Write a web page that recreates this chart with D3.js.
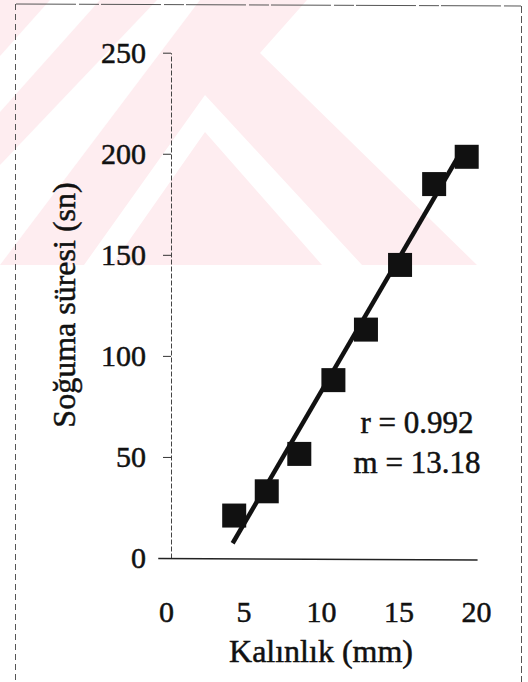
<!DOCTYPE html>
<html>
<head>
<meta charset="utf-8">
<script src="https://cdn.jsdelivr.net/npm/d3@7"></script>
<style>
  html, body { margin: 0; padding: 0; background: #fff; }
  svg { display: block; }
  svg text { font-family: "Liberation Serif", "Tinos", "Times New Roman", "DejaVu Serif", serif !important; fill: #111; stroke: #111; stroke-width: 0.5px; }
</style>
</head>
<body>
<div id="chart"></div>
<script>
// values
const thickness = [4.4, 6.5, 8.6, 10.8, 12.9, 15.1, 17.3, 19.4];   // Kalınlık (mm)
const coolingTime = [21, 33, 51.5, 88, 113, 145, 185, 198.5];      // Soğuma süresi (sn)
const fitLine = [[4.3, 7.3], [19.0, 200.5]];                       // fitted line, m = 13.18
const xTicks = [0, 5, 10, 15, 20];
const yTicks = [0, 50, 100, 150, 200, 250];
const notes = ["r = 0.992", "m = 13.18"];

const width = 528, height = 682;

const svg = d3.select("#chart")
    .append("svg")
    .attr("width", width)
    .attr("height", height);

// faint pink watermark from the scanned page
const wm = svg.append("g").attr("class", "watermark");
wm.append("path").attr("fill", "#feedf0")
    .attr("d", "M0,0 L307,0 L260,53 L477,265 L0,265 Z");
wm.selectAll("path.stripe")
  .data([
    "M50,0 L100,0 L0,112 L0,56 Z",
    "M157,0 L200,0 L0,265 L0,165 Z",
    "M205,95 L362,265 L322,265 L205,132 L112,265 L84,265 Z"
  ])
  .enter().append("path")
    .attr("class", "stripe")
    .attr("fill", "#fff")
    .attr("d", d => d);

// page frame (scanned, broken lines)
const frame = svg.append("g")
    .attr("fill", "none")
    .attr("stroke", "#555")
    .attr("stroke-width", 1);
frame.append("line").attr("x1", 16).attr("y1", 4).attr("x2", 521).attr("y2", 6)
    .attr("stroke-dasharray", "60,3,20,2");
frame.append("line").attr("x1", 15.5).attr("y1", 4).attr("x2", 15.5).attr("y2", 682)
    .attr("stroke-dasharray", "6,4");
frame.append("line").attr("x1", 521.5).attr("y1", 6).attr("x2", 521.5).attr("y2", 682)
    .attr("stroke-dasharray", "7,3");

const x = d3.scaleLinear().domain([0, 20]).range([166, 476]);
const y = d3.scaleLinear().domain([0, 250]).range([558, 52.7]);

// y axis
const yAxis = svg.append("g")
    .attr("transform", "translate(" + (x(0) + 5) + ",0)")
    .call(d3.axisLeft(y).tickValues(yTicks).tickSize(8).tickSizeOuter(0).tickPadding(17));
yAxis.attr("font-family", null);
yAxis.select(".domain").attr("stroke", "#444").attr("stroke-dasharray", "5,2");
yAxis.selectAll(".tick line").attr("stroke", "#333");
yAxis.selectAll(".tick text")
    .style("font-size", "30px")
    .attr("fill", "#111");

// x axis: baseline drawn a little wider than the domain, no tick marks
svg.append("line")
    .attr("x1", x(-0.5)).attr("x2", x(20.1))
    .attr("y1", y(0) + 0.5).attr("y2", y(0) + 2)
    .attr("stroke", "#222")
    .attr("stroke-width", 1.5);

const xAxis = svg.append("g")
    .attr("transform", "translate(0," + y(0) + ")")
    .call(d3.axisBottom(x).tickValues(xTicks).tickSize(0).tickPadding(43));
xAxis.attr("font-family", null);
xAxis.select(".domain").remove();
xAxis.selectAll(".tick text")
    .style("font-size", "30px")
    .attr("fill", "#111");

// axis titles
svg.append("text")
    .attr("x", 321)
    .attr("y", 662)
    .attr("text-anchor", "middle")
    .style("font-size", "32px")
    .text("Kalınlık (mm)");

svg.append("text")
    .attr("transform", "translate(75,305) rotate(-90)")
    .attr("text-anchor", "middle")
    .style("font-size", "32px")
    .text("Soğuma süresi (sn)");

// fitted line
svg.append("path")
    .datum(fitLine)
    .attr("fill", "none")
    .attr("stroke", "#111")
    .attr("stroke-width", 4.5)
    .attr("d", d3.line().x(d => x(d[0])).y(d => y(d[1])));

// data squares
const size = 24;
svg.selectAll("rect.pt")
  .data(thickness.map((t, i) => ({t: t, s: coolingTime[i]})))
  .enter().append("rect")
    .attr("class", "pt")
    .attr("x", d => x(d.t) - size / 2)
    .attr("y", d => y(d.s) - size / 2)
    .attr("width", size)
    .attr("height", size)
    .attr("fill", "#111");

// r and slope
svg.selectAll("text.note")
  .data(notes)
  .enter().append("text")
    .attr("class", "note")
    .attr("x", 417)
    .attr("y", (d, i) => 433 + i * 40)
    .attr("text-anchor", "middle")
    .style("font-size", "31px")
    .text(d => d);
</script>
</body>
</html>
